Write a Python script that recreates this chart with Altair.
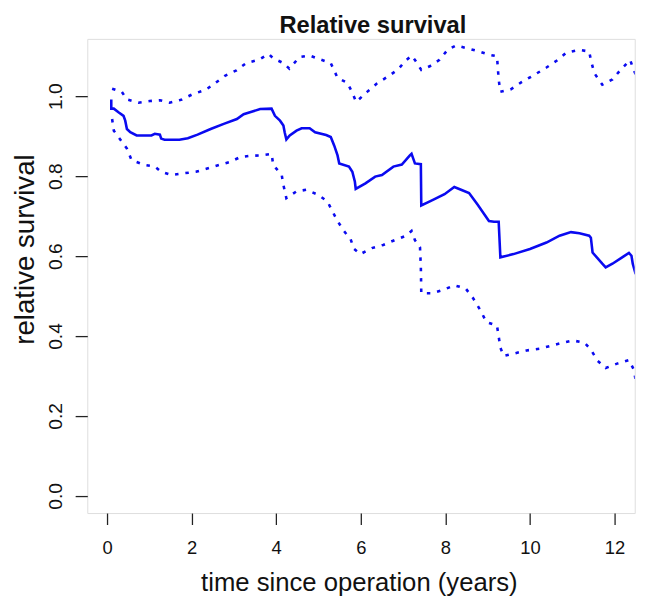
import altair as alt
import pandas as pd

# ---- data ----
t_est = [0.10, 0.10, 0.16, 0.27, 0.39, 0.43, 0.47, 0.55, 0.70, 1.05, 1.13, 1.25, 1.28, 1.36,
         1.71, 1.91, 2.14, 2.45, 2.76, 3.07, 3.23, 3.38, 3.62, 3.89, 3.97, 4.09, 4.17, 4.20,
         4.24, 4.32, 4.48, 4.60, 4.79, 4.92, 5.18, 5.29, 5.37, 5.45, 5.49, 5.72, 5.80, 5.86,
         5.88, 6.11, 6.34, 6.50, 6.77, 6.97, 7.16, 7.20, 7.24, 7.28, 7.42, 7.43, 7.67, 7.98,
         8.21, 8.37, 8.56, 8.76, 9.03, 9.15, 9.26, 9.30, 9.61, 10.00, 10.39, 10.70, 10.97,
         11.17, 11.40, 11.44, 11.48, 11.71, 11.79, 11.95, 12.18, 12.34, 12.40, 12.43, 12.50]
v_est = [0.992, 0.969, 0.969, 0.960, 0.951, 0.939, 0.918, 0.910, 0.902, 0.902, 0.906, 0.904,
         0.894, 0.891, 0.891, 0.895, 0.904, 0.918, 0.931, 0.943, 0.955, 0.960, 0.968, 0.969,
         0.951, 0.939, 0.927, 0.910, 0.892, 0.902, 0.914, 0.920, 0.920, 0.910, 0.903, 0.898,
         0.877, 0.852, 0.832, 0.824, 0.811, 0.786, 0.768, 0.782, 0.799, 0.803, 0.824, 0.829,
         0.852, 0.856, 0.844, 0.832, 0.830, 0.727, 0.739, 0.755, 0.773, 0.766, 0.758, 0.729,
         0.688, 0.686, 0.686, 0.597, 0.605, 0.618, 0.634, 0.651, 0.660, 0.657, 0.651, 0.646,
         0.609, 0.581, 0.572, 0.581, 0.597, 0.608, 0.601, 0.581, 0.555]

t_up = [0.12, 0.35, 0.47, 0.74, 1.01, 1.25, 1.48, 1.75, 2.02, 2.33, 2.57, 2.80, 3.06, 3.29,
        3.58, 3.82, 3.93, 4.17, 4.31, 4.55, 4.79, 5.02, 5.29, 5.45, 5.68, 5.80, 5.89, 6.15,
        6.38, 6.65, 6.89, 7.04, 7.20, 7.28, 7.43, 7.63, 7.86, 8.05, 8.25, 8.52, 8.80, 9.03,
        9.22, 9.26, 9.30, 9.54, 9.81, 10.08, 10.39, 10.66, 10.86, 11.17, 11.40, 11.44, 11.52,
        11.71, 11.95, 12.14, 12.37, 12.45, 12.50]
v_up = [1.019, 1.011, 0.992, 0.984, 0.988, 0.990, 0.984, 0.991, 1.005, 1.016, 1.034, 1.052,
        1.065, 1.083, 1.091, 1.106, 1.095, 1.083, 1.069, 1.098, 1.102, 1.093, 1.083, 1.046,
        1.034, 1.009, 0.986, 1.011, 1.032, 1.050, 1.068, 1.087, 1.102, 1.091, 1.066, 1.075,
        1.091, 1.116, 1.127, 1.120, 1.112, 1.104, 1.100, 1.042, 1.011, 1.017, 1.036, 1.052,
        1.072, 1.091, 1.109, 1.116, 1.112, 1.091, 1.058, 1.029, 1.042, 1.066, 1.091, 1.066,
        1.055]

t_lo = [0.12, 0.16, 0.47, 0.58, 0.89, 1.13, 1.28, 1.52, 1.79, 2.10, 2.37, 2.65, 2.92, 3.15,
        3.38, 3.62, 3.89, 3.93, 4.13, 4.17, 4.24, 4.48, 4.71, 4.98, 5.21, 5.33, 5.45, 5.60,
        5.76, 5.84, 5.99, 6.26, 6.53, 6.80, 7.07, 7.20, 7.28, 7.40, 7.42, 7.43, 7.67, 7.94,
        8.21, 8.48, 8.66, 8.83, 8.97, 9.22, 9.26, 9.30, 9.38, 9.65, 9.92, 10.22, 10.48, 10.76,
        11.01, 11.29, 11.44, 11.60, 11.79, 12.06, 12.34, 12.45, 12.50]
v_lo = [0.943, 0.914, 0.869, 0.840, 0.828, 0.824, 0.811, 0.803, 0.807, 0.811, 0.819, 0.828,
        0.836, 0.848, 0.851, 0.852, 0.856, 0.828, 0.803, 0.778, 0.745, 0.762, 0.766, 0.754,
        0.737, 0.712, 0.688, 0.663, 0.642, 0.618, 0.605, 0.620, 0.628, 0.640, 0.651, 0.663,
        0.640, 0.622, 0.572, 0.507, 0.507, 0.515, 0.527, 0.519, 0.494, 0.464, 0.435, 0.426,
        0.399, 0.371, 0.350, 0.357, 0.364, 0.368, 0.375, 0.383, 0.389, 0.383, 0.366, 0.338,
        0.320, 0.331, 0.340, 0.317, 0.290]

x_ticks = [0, 2, 4, 6, 8, 10, 12]
y_ticks = [0.0, 0.2, 0.4, 0.6, 0.8, 1.0]
title_text = ["Relative survival"]

FONT = "Liberation Sans"
BLUE = "#0a0af0"
INK = "#222222"


def frame(t, v):
    return pd.DataFrame({"t": t, "v": v, "i": list(range(len(t)))})


xscale = alt.Scale(domain=[-0.467, 12.477], nice=False, zero=False)
yscale = alt.Scale(domain=[-0.043, 1.1436], nice=False, zero=False)

xaxis = alt.Axis(values=x_ticks, format="d", grid=False, domain=False,
                 tickSize=11.6, tickWidth=1.3, tickColor=INK,
                 labelFont=FONT, labelFontSize=18.6, labelColor="#111111",
                 labelBaseline="alphabetic", labelPadding=29.4,
                 labelFlush=False, labelOverlap=False,
                 title="time since operation (years)", titleFont=FONT,
                 titleFontSize=26, titleFontWeight="normal", titleColor="#111111",
                 titleX=275, titleY=78.6, titleAlign="center",
                 titleBaseline="alphabetic")

yaxis = alt.Axis(values=y_ticks, format=".1f", grid=False, domain=False,
                 tickSize=12.3, tickWidth=1.3, tickColor=INK,
                 labelFont=FONT, labelFontSize=19.4, labelColor="#111111",
                 labelAngle=270, labelAlign="center", labelBaseline="alphabetic",
                 labelPadding=14.3, labelFlush=False, labelOverlap=False,
                 title="relative survival", titleFont=FONT, titleFontSize=28,
                 titleFontWeight="normal", titleColor="#111111",
                 titleAngle=270, titleX=-54.3, titleY=212.8,
                 titleAlign="center", titleBaseline="alphabetic")

x_enc = alt.X("t:Q", scale=xscale, axis=xaxis)
y_enc = alt.Y("v:Q", scale=yscale, axis=yaxis)

est = alt.Chart(frame(t_est, v_est)).mark_line(
    color=BLUE, strokeWidth=2.6, clip=True, strokeJoin="miter"
).encode(x=x_enc, y=y_enc, order="i:Q")

upper = alt.Chart(frame(t_up, v_up)).mark_line(
    color=BLUE, strokeWidth=2.6, clip=True, strokeDash=[3.5, 7], strokeCap="butt"
).encode(x=alt.X("t:Q", scale=xscale), y=alt.Y("v:Q", scale=yscale), order="i:Q")

lower = alt.Chart(frame(t_lo, v_lo)).mark_line(
    color=BLUE, strokeWidth=2.6, clip=True, strokeDash=[3.5, 7], strokeCap="butt"
).encode(x=alt.X("t:Q", scale=xscale), y=alt.Y("v:Q", scale=yscale), order="i:Q")

title = alt.Chart(pd.DataFrame({"label": title_text})).mark_text(
    font=FONT, fontSize=24, fontWeight="bold", color="#111111",
    align="center", baseline="alphabetic"
).encode(text="label:N", x=alt.value(289.2), y=alt.value(-5.6))

chart = alt.layer(est, upper, lower, title).properties(
    width=554.4,
    height=480.2,
    autosize=alt.AutoSizeParams(type="none"),
    padding={"left": 80.3, "top": 27.5, "right": 2.3, "bottom": 86.3},
).configure_view(
    stroke=INK, strokeWidth=1.5
).configure(background="white")

chart.save("out.html", embed_options={"renderer": "svg", "actions": False})
